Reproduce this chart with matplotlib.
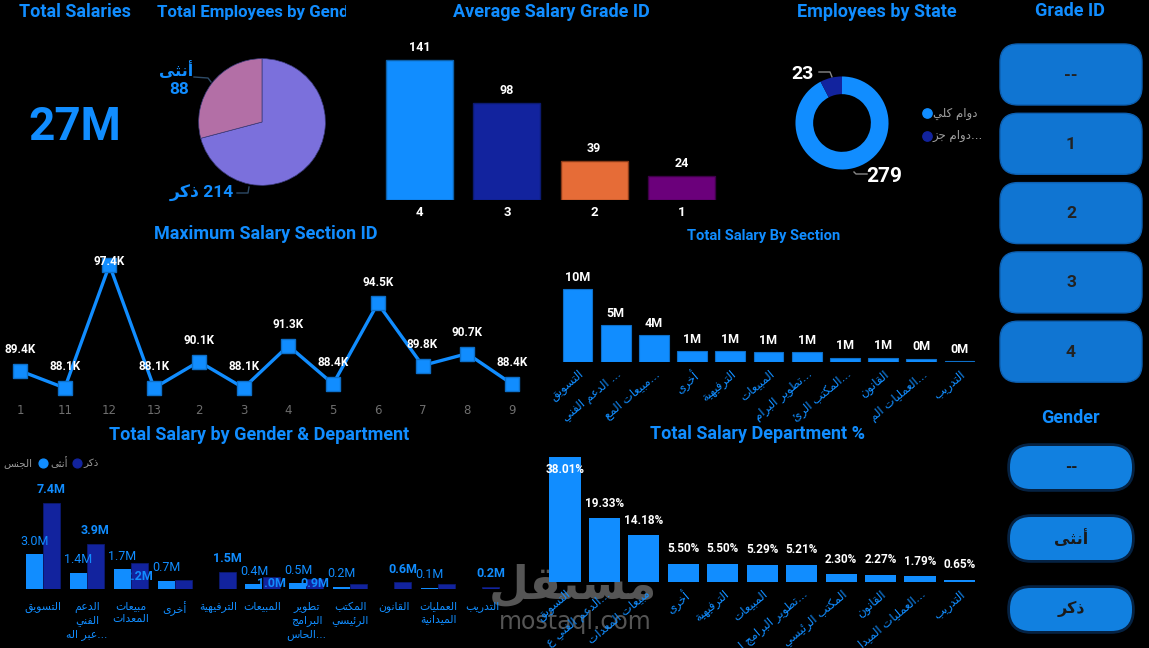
import re
import numpy as np
import matplotlib
matplotlib.use("Agg")
import matplotlib.pyplot as plt
from matplotlib.patches import FancyBboxPatch

# ---------------- data ----------------
total_salaries_label = "27M"

gender_names = ["ذكر", "أنثى"]
gender_counts = [214, 88]

grade_ids = ["4", "3", "2", "1"]
grade_avg = [141, 98, 39, 24]

state_names = ["دوام كلي", "دوام جز..."]
state_counts = [279, 23]

section_ids = ["1", "11", "12", "13", "2", "3", "4", "5", "6", "7", "8", "9"]
section_max_k = [89.4, 88.1, 97.4, 88.1, 90.1, 88.1, 91.3, 88.4, 94.5, 89.8, 90.7, 88.4]

section_names = ["التسويق", "الدعم الفني ...", "مبيعات المع...", "أخرى", "الترفيهية",
                 "المبيعات", "تطوير البرام...", "المكتب الرئ...", "القانون",
                 "العمليات الم...", "التدريب"]
section_total_m = [10.26, 5.22, 3.83, 1.49, 1.49, 1.43, 1.41, 0.62, 0.61, 0.48, 0.18]

dept_gender_names = ["التسويق", "الدعم\nالفني\nعبر اله...", "مبيعات\nالمعدات", "أخرى",
                     "الترفيهية", "المبيعات", "تطوير\nالبرامج\nالحاس...", "المكتب\nالرئيسي",
                     "القانون", "العمليات\nالميدانية", "التدريب"]
female_m = [3.0, 1.4, 1.7, 0.7, np.nan, 0.4, 0.5, 0.2, np.nan, 0.1, np.nan]
male_m = [7.4, 3.9, 2.2, 0.8, 1.5, 1.0, 0.9, 0.4, 0.6, 0.4, 0.2]
male_label_mode = ["above", "above", "center", "none", "above", "center", "center",
                   "none", "above", "none", "above"]

dept_pct_names = ["التسويق", "الدعم الفني ع...", "مبيعات المعدات", "أخرى", "الترفيهية",
                  "المبيعات", "تطوير البرامج ا...", "المكتب الرئيسي", "القانون",
                  "العمليات الميدا...", "التدريب"]
dept_pct = [38.01, 19.33, 14.18, 5.50, 5.50, 5.29, 5.21, 2.30, 2.27, 1.79, 0.65]

grade_slicer = ["--", "1", "2", "3", "4"]
gender_slicer = ["--", "أنثى", "ذكر"]

# ---------------- Arabic shaping (presentation forms) ----------------
_FORMS = {
    'ء': (0xFE80, None, None, None), 'آ': (0xFE81, 0xFE82, None, None),
    'أ': (0xFE83, 0xFE84, None, None), 'ؤ': (0xFE85, 0xFE86, None, None),
    'إ': (0xFE87, 0xFE88, None, None), 'ئ': (0xFE89, 0xFE8A, 0xFE8B, 0xFE8C),
    'ا': (0xFE8D, 0xFE8E, None, None), 'ب': (0xFE8F, 0xFE90, 0xFE91, 0xFE92),
    'ة': (0xFE93, 0xFE94, None, None), 'ت': (0xFE95, 0xFE96, 0xFE97, 0xFE98),
    'ث': (0xFE99, 0xFE9A, 0xFE9B, 0xFE9C), 'ج': (0xFE9D, 0xFE9E, 0xFE9F, 0xFEA0),
    'ح': (0xFEA1, 0xFEA2, 0xFEA3, 0xFEA4), 'خ': (0xFEA5, 0xFEA6, 0xFEA7, 0xFEA8),
    'د': (0xFEA9, 0xFEAA, None, None), 'ذ': (0xFEAB, 0xFEAC, None, None),
    'ر': (0xFEAD, 0xFEAE, None, None), 'ز': (0xFEAF, 0xFEB0, None, None),
    'س': (0xFEB1, 0xFEB2, 0xFEB3, 0xFEB4), 'ش': (0xFEB5, 0xFEB6, 0xFEB7, 0xFEB8),
    'ص': (0xFEB9, 0xFEBA, 0xFEBB, 0xFEBC), 'ض': (0xFEBD, 0xFEBE, 0xFEBF, 0xFEC0),
    'ط': (0xFEC1, 0xFEC2, 0xFEC3, 0xFEC4), 'ظ': (0xFEC5, 0xFEC6, 0xFEC7, 0xFEC8),
    'ع': (0xFEC9, 0xFECA, 0xFECB, 0xFECC), 'غ': (0xFECD, 0xFECE, 0xFECF, 0xFED0),
    'ف': (0xFED1, 0xFED2, 0xFED3, 0xFED4), 'ق': (0xFED5, 0xFED6, 0xFED7, 0xFED8),
    'ك': (0xFED9, 0xFEDA, 0xFEDB, 0xFEDC), 'ل': (0xFEDD, 0xFEDE, 0xFEDF, 0xFEE0),
    'م': (0xFEE1, 0xFEE2, 0xFEE3, 0xFEE4), 'ن': (0xFEE5, 0xFEE6, 0xFEE7, 0xFEE8),
    'ه': (0xFEE9, 0xFEEA, 0xFEEB, 0xFEEC), 'و': (0xFEED, 0xFEEE, None, None),
    'ى': (0xFEEF, 0xFEF0, None, None), 'ي': (0xFEF1, 0xFEF2, 0xFEF3, 0xFEF4),
}
_LAMALEF = {'آ': (0xFEF5, 0xFEF6), 'أ': (0xFEF7, 0xFEF8), 'إ': (0xFEF9, 0xFEFA), 'ا': (0xFEFB, 0xFEFC)}


def _dual(c):
    return c in _FORMS and _FORMS[c][2] is not None


def _shape(s):
    out = []
    i = 0
    n = len(s)
    while i < n:
        c = s[i]
        if c not in _FORMS:
            out.append(c)
            i += 1
            continue
        prev = s[i - 1] if i > 0 else ''
        jp = _dual(prev)
        if c == 'ل' and i + 1 < n and s[i + 1] in _LAMALEF:
            iso, fin = _LAMALEF[s[i + 1]]
            out.append(chr(fin if jp else iso))
            i += 2
            continue
        nxt = s[i + 1] if i + 1 < n else ''
        jn = _dual(c) and nxt in _FORMS
        iso, fin, ini, med = _FORMS[c]
        if jp and jn:
            f = med
        elif jp:
            f = fin
        elif jn:
            f = ini
        else:
            f = iso
        out.append(chr(f))
        i += 1
    return ''.join(out)


_ARUN = re.compile('[\u0600-\u06FF\uFE70-\uFEFF]+(?:[ ]+[\u0600-\u06FF\uFE70-\uFEFF]+)*')


def ar(s):
    """Shape Arabic text and lay it out visually (LTR base, Arabic runs reversed)."""
    return '\n'.join(_ARUN.sub(lambda m: m.group(0)[::-1], _shape(line)) for line in s.split('\n'))


# ---------------- style ----------------
W, H = 1149, 648
BLUE = '#118DFF'
DARK = '#12239E'
FAM = ['Roboto', 'DejaVu Sans']
AFAM = ['DejaVu Sans']

plt.rcParams['font.family'] = FAM
fig = plt.figure(figsize=(W / 100, H / 100), dpi=100, facecolor='black')

ov = fig.add_axes([0, 0, 1, 1])
ov.set_xlim(0, W)
ov.set_ylim(H, 0)
ov.axis('off')
ov.set_facecolor('none')


def place(x0, y0, x1, y1):
    a = fig.add_axes([x0 / W, 1 - y1 / H, (x1 - x0) / W, (y1 - y0) / H])
    a.set_facecolor('none')
    for sp in a.spines.values():
        sp.set_visible(False)
    return a


def title(x, y, s, size=13, ha='center'):
    return ov.text(x, y, s, color=BLUE, fontsize=size, fontweight='bold', ha=ha, va='center',
                   family=FAM)


# watermark (behind)
ov.text(573, 586, ar("مستقل"), fontsize=33, color='#555555', ha='center', va='center',
        family=AFAM, fontweight='bold', zorder=0)
ov.text(575, 622, "mostaql.com", fontsize=17, color='#555555', ha='center', va='center',
        family=['DejaVu Sans'], zorder=0)

# ---------------- titles ----------------
title(75, 12, "Total Salaries")
# pie title is clipped by its visual's frame
tax = place(150, 0, 346, 28)
tax.set_xticks([])
tax.set_yticks([])
tax.set_xlim(150, 346)
tax.set_ylim(28, 0)
tax.text(157, 12, "Total Employees by Gender", color=BLUE, fontsize=12.2, fontweight='bold',
         ha='left', va='center', clip_on=True)
title(551, 12, "Average Salary Grade ID")
title(877, 12, "Employees by State")
title(1070, 11, "Grade ID")
title(266, 234, "Maximum Salary Section ID")
title(764, 236, "Total Salary By Section", size=10.6)
title(259, 435, "Total Salary by Gender & Department")
title(758, 434, "Total Salary Department %")
title(1070, 418, "Gender")

# ---------------- KPI ----------------
ov.text(75, 127, total_salaries_label, color=BLUE, fontsize=33, fontweight='bold',
        ha='center', va='center')

# ---------------- pie ----------------
ax = place(198, 58, 326, 186)
ax.pie(gender_counts, colors=['#7B70DC', '#B36FA6'], startangle=90, counterclock=False,
       wedgeprops=dict(edgecolor='#3a3a7a', linewidth=0.5))
ax.set_xlim(-1.01, 1.01)
ax.set_ylim(-1.01, 1.01)
ov.text(176, 70, ar(gender_names[1]), color=BLUE, fontsize=11.5, fontweight='bold',
        ha='center', va='center', family=AFAM)
ov.text(179, 90, str(gender_counts[1]), color=BLUE, fontsize=12.5, fontweight='bold',
        ha='center', va='center')
ov.text(234, 193, ar(gender_names[0]) + " " + str(gender_counts[0]), color=BLUE, fontsize=12.5,
        fontweight='bold', ha='right', va='center', family=FAM)
ov.plot([194, 208, 211], [77, 78, 82], color='#2d4a66', lw=1)
ov.plot([237, 248, 249], [193, 193, 187], color='#2d4a66', lw=1)

# ---------------- grade bars ----------------
ax = place(376, 40, 725, 200)
xg = np.arange(len(grade_ids))
ax.bar(xg, grade_avg, width=0.77, color=[BLUE, DARK, '#E66C37', '#6B007B'],
       edgecolor=['#0d5fa8', '#0c1a70', '#8a3a18', '#3d0047'], linewidth=1)
ax.set_xlim(-0.5, 3.5)
ax.set_ylim(0, 161)
for xi, v in zip(xg, grade_avg):
    ax.annotate(str(v), (xi, v), xytext=(0, 9), textcoords='offset points', ha='center',
                va='center', color='white', fontsize=9, fontweight='bold')
ax.set_xticks(xg, grade_ids, color='white', fontsize=9.5, fontweight='bold')
ax.tick_params(length=0, pad=4)
ax.set_yticks([])

# ---------------- donut ----------------
ax = place(795, 76, 889, 170)
ax.pie(state_counts, colors=[BLUE, DARK], startangle=90, counterclock=False,
       wedgeprops=dict(width=0.38))
ax.set_xlim(-1.01, 1.01)
ax.set_ylim(-1.01, 1.01)
ov.text(803, 74, str(state_counts[1]), color='white', fontsize=14, fontweight='bold',
        ha='center', va='center')
ov.text(884, 177, str(state_counts[0]), color='white', fontsize=15, fontweight='bold',
        ha='center', va='center')
ov.plot([819, 830, 832], [72, 72, 77], color='#888888', lw=1)
ov.plot([854, 856, 867], [172, 174, 174], color='#888888', lw=1)
for k, (nm, col) in enumerate(zip(state_names, [BLUE, DARK])):
    yy = 113 + 23 * k
    ov.scatter([927], [yy], s=45, color=col, zorder=3)
    ov.text(933, yy, ar(nm), color='#a0a0a0', fontsize=8.5, ha='left', va='center', family=AFAM)

# ---------------- slicers ----------------
for k, lab in enumerate(grade_slicer):
    y0 = 44 + 69.3 * k
    ov.add_patch(FancyBboxPatch((1000, y0), 142, 61, boxstyle="round,pad=0,rounding_size=18",
                                facecolor='#1075D2', edgecolor='#0d5fb0', lw=1))
    ov.text(1071, y0 + 31, lab, color='#222222', fontsize=12.5, fontweight='bold',
            ha='center', va='center')
for k, lab in enumerate(gender_slicer):
    y0 = 446 + 71 * k
    ov.add_patch(FancyBboxPatch((1010, y0), 122, 43, boxstyle="round,pad=0,rounding_size=21",
                                facecolor='#0A3A70', edgecolor='#0A3A70', lw=4, alpha=0.6))
    ov.add_patch(FancyBboxPatch((1010, y0), 122, 43, boxstyle="round,pad=0,rounding_size=21",
                                facecolor='#1180E0', edgecolor='none'))
    ov.text(1071, y0 + 21, ar(lab), color='#1a1a1a', fontsize=11.5, fontweight='bold',
            ha='center', va='center', family=FAM)

# ---------------- line chart ----------------
ax = place(0, 255, 532, 400)
xs = np.arange(len(section_ids))
ax.plot(xs, section_max_k, color=BLUE, lw=2.4, marker='s', markersize=10,
        markerfacecolor=BLUE, markeredgecolor='#0d6fc9', zorder=3)
ax.set_xlim(-20 / 44.73, 11 + 20 / 44.73)
ax.set_ylim(87.19, 98.16)
for xi, v in zip(xs, section_max_k):
    ax.text(xi, min(v + 1.59, 97.7), f"{v:.1f}K", color='white', fontsize=8.5,
            fontweight='bold', ha='center', va='center', zorder=4)
ax.set_xticks(xs, section_ids, color='#6e6e6e', fontsize=8.5, family=['DejaVu Sans'])
ax.tick_params(length=0, pad=3)
ax.set_yticks([])

# ---------------- section bars ----------------
ax = place(558.4, 270, 978.6, 362)
xsec = np.arange(len(section_names))
ax.bar(xsec, section_total_m, width=0.78, color=BLUE, edgecolor='#0d6fc9', lw=0.8)
ax.set_xlim(-0.5, 10.5)
ax.set_ylim(0, 92 / 7.1)
for xi, v in zip(xsec, section_total_m):
    ax.text(xi, v + 1.65, f"{v:.0f}M", color='white', fontsize=9, fontweight='bold',
            ha='center', va='center')
ax.set_xticks(xsec, [ar(s) for s in section_names], color=BLUE, fontsize=8.5, rotation=40,
              ha='right', rotation_mode='anchor', family=AFAM)
ax.tick_params(length=0, pad=4)
ax.set_yticks([])

# ---------------- gender & department ----------------
ax = place(21, 480, 504, 589)
xd = np.arange(len(dept_gender_names))
off = 0.194
ax.bar(xd - off, female_m, width=0.387, color=BLUE)
ax.bar(xd + off, male_m, width=0.387, color=DARK, edgecolor='#0c1a70', lw=0.6)
ax.set_xlim(-0.5, 10.5)
ax.set_ylim(0, 109 / 11.62)
for xi, v in zip(xd, female_m):
    if not np.isnan(v):
        ax.text(xi - off, v + 1.12, f"{v:.1f}M", color=BLUE, fontsize=9, ha='center',
                va='center')
for xi, v, mode in zip(xd, male_m, male_label_mode):
    if mode == 'above':
        ax.text(xi + off, v + 1.12, f"{v:.1f}M", color=BLUE, fontsize=9, fontweight='bold',
                ha='center', va='center')
    elif mode == 'center':
        ax.text(xi + off, v / 2, f"{v:.1f}M", color=BLUE, fontsize=9, fontweight='bold',
                ha='center', va='center')
ax.set_xticks(xd, [ar(s) for s in dept_gender_names], color=BLUE, fontsize=7.8,
              family=AFAM, linespacing=1.35)
ax.tick_params(length=0, pad=9)
ax.set_yticks([])
# legend
ov.text(32, 463, ar("الجنس"), color='#9a9a9a', fontsize=7.5, ha='right', va='center', family=AFAM)
ov.scatter([43], [463], s=40, color=BLUE)
ov.text(50, 463, ar(gender_names[1]), color='#9a9a9a', fontsize=7.5, ha='left', va='center', family=AFAM)
ov.scatter([77], [463], s=40, color=DARK)
ov.text(83, 463, ar(gender_names[0]), color='#9a9a9a', fontsize=7.5, ha='left', va='center', family=AFAM)

# ---------------- department % ----------------
ax = place(545.3, 452, 979.2, 582)
xp = np.arange(len(dept_pct_names))
ax.bar(xp, dept_pct, width=0.79, color=BLUE)
ax.set_xlim(-0.5, 10.5)
top = 130 / 3.29
ax.set_ylim(0, top)
for xi, v in zip(xp, dept_pct):
    yl = v + 4.56 if v + 4.56 < top - 1 else v - 3.9
    ax.text(xi, yl, f"{v:.2f}%", color='white', fontsize=8.5, fontweight='bold',
            ha='center', va='center', clip_on=False)
ax.set_xticks(xp, [ar(s) for s in dept_pct_names], color=BLUE, fontsize=8.5, rotation=40,
              ha='right', rotation_mode='anchor', family=AFAM)
ax.tick_params(length=0, pad=4)
ax.set_yticks([])

fig.savefig("out.png", dpi=100, facecolor='black')
